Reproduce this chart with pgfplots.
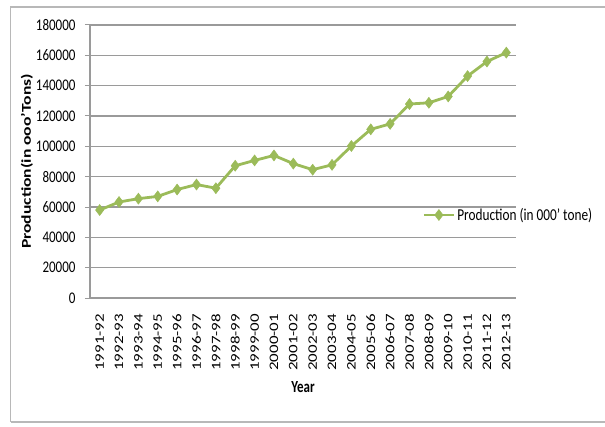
\documentclass[border=0pt]{standalone}
\usepackage{pgfplots}
\pgfplotsset{compat=1.18}
\usepackage{fontspec}
\setmainfont{Carlito}
\definecolor{excelgreen}{HTML}{9BBB59}
\definecolor{gridgray}{HTML}{9A9A9A}
\begin{document}
\begin{tikzpicture}[x=1pt,y=1pt]
\useasboundingbox (0,0) rectangle (605,426);
\draw[gridgray!70,line width=1.2pt] (10.5,4) -- (10.5,419) -- (620,419);
\draw[gridgray!70,line width=1.2pt] (10.5,4) -- (620,4);
\begin{axis}[
  at={(90pt,128pt)}, anchor=south west,
  scale only axis, width=426pt, height=273pt,
  xmin=-0.5, xmax=21.5, ymin=0, ymax=180000,
  ytick={0,20000,...,180000},
  scaled y ticks=false,
  /pgf/number format/fixed,
  /pgf/number format/1000 sep={},
  /pgf/number format/assume math mode=true,
  xtick={0,...,21},
  xticklabels={1991-92,1992-93,1993-94,1994-95,1995-96,1996-97,1997-98,1998-99,1999-00,2000-01,2001-02,2002-03,2003-04,2004-05,2005-06,2006-07,2007-08,2008-09,2009-10,2010-11,2011-12,2012-13},
  xticklabel style={rotate=90, anchor=east, font=\fontsize{13}{15}\selectfont, xscale=1.3, xshift=-5pt},
  yticklabel style={font=\fontsize{13}{15}\selectfont, yscale=1.25, xshift=-6pt},
  tick label style={text=black},
  axis x line*=bottom, axis y line*=left,
  axis line style={gridgray, line width=1.3pt, -},
  ymajorgrids, grid style={gridgray, line width=1.3pt},
  major tick length=5pt,
  ytick style={gridgray, line width=1pt},
  xtick style={draw=none},
  tick align=outside,
  ylabel={\bfseries Production(in ooo'Tons)},
  ylabel style={at={(axis description cs:-0.148,0.5)}, anchor=center, font=\fontsize{13.5}{15}\selectfont, xscale=1.3},
  xlabel={\bfseries Year},
  xlabel style={at={(axis description cs:0.5,-0.326)}, anchor=center, font=\fontsize{13}{15}\selectfont, yscale=1.3},
  legend style={at={(axis description cs:0.78,0.304)}, anchor=west, draw=none, fill=none, font=\fontsize{13.3}{15}\selectfont, inner sep=0pt},
  legend image code/.code={
    \draw[#1, mark repeat=2, mark phase=2] plot coordinates {(0pt,0pt) (15pt,0pt) (30pt,0pt)};
  },
  clip=false,
]
\addplot[excelgreen, line width=2.8pt, mark=diamond*, mark size=5.5pt, mark options={solid, line width=0.5pt, fill=excelgreen}]
coordinates {
(0,58000) (1,63300) (2,65500) (3,67000) (4,71500) (5,74800) (6,72400)
(7,87200) (8,90700) (9,94000) (10,88600) (11,84600) (12,87800) (13,100200)
(14,111200) (15,114800) (16,127900) (17,128700) (18,132900) (19,146300)
(20,155900) (21,161800)
};
\addlegendentry{\raisebox{0pt}{\scalebox{1}[1.25]{Production (in 000’ tone)}}}
\end{axis}
\end{tikzpicture}
\end{document}
